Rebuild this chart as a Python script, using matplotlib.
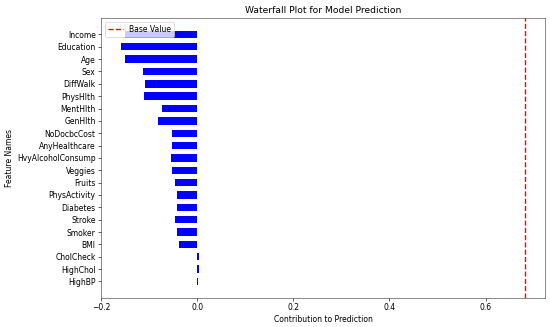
import numpy as np
import matplotlib.pyplot as plt

# Feature contributions (top to bottom as displayed)
features = ['Income', 'Education', 'Age', 'Sex', 'DiffWalk', 'PhysHlth',
            'MentHlth', 'GenHlth', 'NoDocbcCost', 'AnyHealthcare',
            'HvyAlcoholConsump', 'Veggies', 'Fruits', 'PhysActivity',
            'Diabetes', 'Stroke', 'Smoker', 'BMI', 'CholCheck',
            'HighChol', 'HighBP']
contributions = [-0.150, -0.159, -0.152, -0.113, -0.110, -0.111,
                 -0.073, -0.082, -0.054, -0.054,
                 -0.055, -0.054, -0.046, -0.043,
                 -0.042, -0.047, -0.042, -0.039, 0.003,
                 0.003, 0.001]
base_value = 0.682

fig, ax = plt.subplots(figsize=(10, 327 / 55), dpi=55)

y = np.arange(len(features))
ax.barh(y, contributions, height=0.6, color='blue')
ax.axvline(base_value, color='red', linestyle='--', linewidth=1.8, label='Base Value')

ax.set_yticks(y)
ax.set_yticklabels(features)
ax.invert_yaxis()

ax.set_title("Waterfall Plot for Model Prediction")
ax.set_xlabel("Contribution to Prediction")
ax.set_ylabel("Feature Names")
ax.legend(loc='upper left')

for s in ax.spines.values():
    s.set_color('#444444')

plt.subplots_adjust(left=0.1836, right=0.991, top=0.945, bottom=0.089)
plt.savefig('out.png', dpi=55)
